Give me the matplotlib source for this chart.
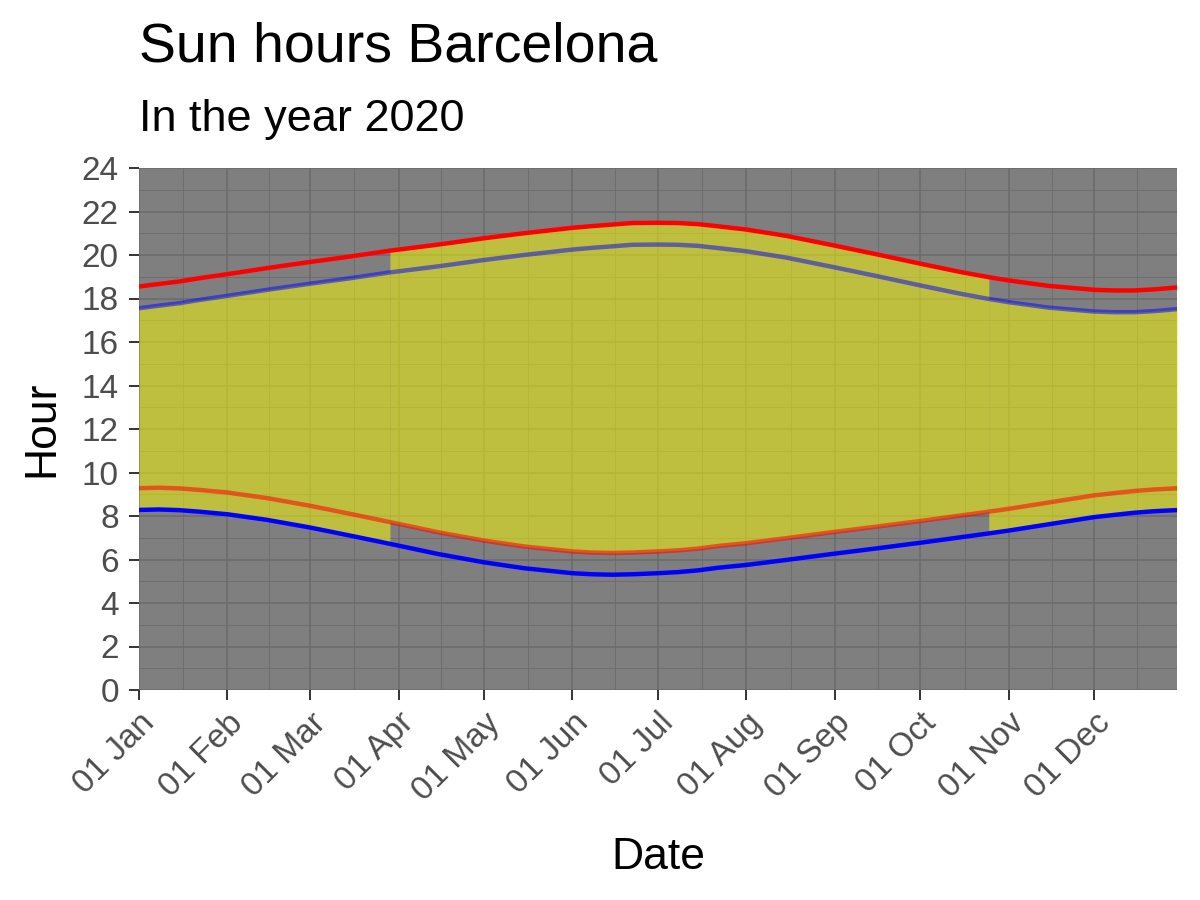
import matplotlib
matplotlib.use("Agg")
import matplotlib.pyplot as plt
import matplotlib.dates as mdates
import numpy as np
import pandas as pd

# ---- data (CET, decimal hours) ----
dates = ["2020-01-01", "2020-01-08", "2020-01-15", "2020-01-22", "2020-02-01",
         "2020-02-15", "2020-03-01", "2020-03-15", "2020-03-29", "2020-04-15",
         "2020-05-01", "2020-05-15", "2020-06-01", "2020-06-08", "2020-06-15",
         "2020-06-22", "2020-07-01", "2020-07-08", "2020-07-15", "2020-07-22",
         "2020-08-01", "2020-08-15", "2020-09-01", "2020-09-15", "2020-10-01",
         "2020-10-15", "2020-10-25", "2020-11-01", "2020-11-15", "2020-12-01",
         "2020-12-08", "2020-12-15", "2020-12-22", "2020-12-31"]
sunrise_cet = [8.28, 8.30, 8.27, 8.20, 8.08,
               7.82, 7.47, 7.10, 6.72, 6.25,
               5.87, 5.60, 5.37, 5.32, 5.30,
               5.32, 5.37, 5.42, 5.50, 5.62,
               5.75, 5.98, 6.27, 6.50, 6.77,
               7.02, 7.20, 7.33, 7.62, 7.95,
               8.05, 8.15, 8.22, 8.28]
sunset_cet = [17.55, 17.67, 17.78, 17.93, 18.12,
              18.40, 18.68, 18.93, 19.20, 19.48,
              19.77, 20.00, 20.25, 20.33, 20.40,
              20.47, 20.48, 20.47, 20.42, 20.32,
              20.17, 19.88, 19.43, 19.05, 18.60,
              18.22, 17.98, 17.83, 17.58, 17.40,
              17.37, 17.37, 17.42, 17.52]
dst_start = "2020-03-29"
dst_end = "2020-10-25"
summer_offset = 1.0

y_ticks = list(range(0, 25, 2))
x_tick_dates = pd.date_range("2020-01-01", "2020-12-01", freq="MS")

# ---- derived ----
d = pd.to_datetime(dates)
rise = np.array(sunrise_cet)
sset = np.array(sunset_cet)
rise_s = rise + summer_offset
sset_s = sset + summer_offset
ds, de = pd.Timestamp(dst_start), pd.Timestamp(dst_end)
w1 = d <= ds
sm = (d >= ds) & (d <= de)
w2 = d >= de

plt.rcParams['font.family'] = ['Liberation Sans', 'DejaVu Sans']
fig = plt.figure(figsize=(12, 9), dpi=100)
ax = fig.add_axes([139/1200, 1-690/900, (1177-139)/1200, (690-168)/900])
ax.set_facecolor('#7F7F7F')

# grid
gc = '#6B6B6B'
for yy in range(0, 25):
    ax.axhline(yy, color=gc, lw=1.1 if yy % 2 == 0 else 0.6, zorder=0.5)
xmaj = list(x_tick_dates)
for x in xmaj:
    ax.axvline(x, color=gc, lw=1.1, zorder=0.5)
for a, b in zip(xmaj[:-1], xmaj[1:]):
    ax.axvline(a + (b - a) / 2, color=gc, lw=0.6, zorder=0.5)
ax.axvline(xmaj[-1] + (xmaj[-1] - xmaj[-2]) / 2, color=gc, lw=0.6, zorder=0.5)

# sunlight fill
yel = '#FFFF00'
ax.fill_between(d[w1], rise[w1], sset[w1], color=yel, alpha=0.5, lw=0, zorder=2)
ax.fill_between(d[sm], rise_s[sm], sset_s[sm], color=yel, alpha=0.5, lw=0, zorder=2)
ax.fill_between(d[w2], rise[w2], sset[w2], color=yel, alpha=0.5, lw=0, zorder=2)

# lines
lw = 3.2
ax.plot(d, sset_s, color='#FF0000', lw=lw, zorder=3, solid_capstyle='butt')
ax.plot(d, rise_s, color='#FF0000', lw=lw, alpha=0.55, zorder=3, solid_capstyle='butt')
ax.plot(d, sset, color='#0000FF', lw=lw, alpha=0.5, zorder=3, solid_capstyle='butt')
ax.plot(d, rise, color='#0000FF', lw=lw, zorder=3, solid_capstyle='butt')

ax.set_xlim(pd.Timestamp("2020-01-01"), pd.Timestamp("2020-12-30"))
ax.set_ylim(0, 24)
ax.set_yticks(y_ticks)
ax.set_xticks(x_tick_dates)
ax.xaxis.set_major_formatter(mdates.DateFormatter("%d %b"))
for s in ax.spines.values():
    s.set_visible(False)
ax.tick_params(axis='both', colors='#333333', length=7.5, width=1.4, labelsize=24,
               labelcolor='#4D4D4D')
ax.tick_params(axis='y', pad=7)
ax.tick_params(axis='x', pad=5)
for lab in ax.get_xticklabels():
    lab.set_rotation(45)
    lab.set_ha('right')
    lab.set_va('top')
    lab.set_rotation_mode('anchor')

ax.set_xlabel("Date", fontsize=32, color='black', labelpad=22)
ax.set_ylabel("Hour", fontsize=32, color='black', labelpad=14)

fig.text(139/1200, 1-47/900, "Sun hours Barcelona", fontsize=40, va='center', ha='left')
fig.text(139/1200, 1-120/900, "In the year 2020", fontsize=32.5, va='center', ha='left')

fig.savefig("out.png", dpi=100)
